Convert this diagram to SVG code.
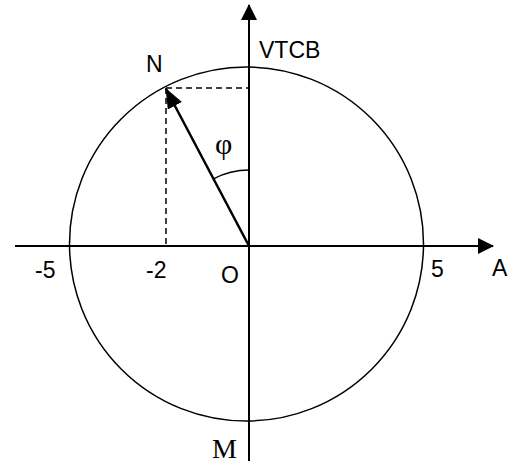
<svg xmlns="http://www.w3.org/2000/svg" width="520" height="466" viewBox="0 0 520 466">
<style>
.ax{stroke:#000;stroke-width:2;fill:none}
.thin{stroke:#000;stroke-width:1.5;fill:none}
.dash{stroke:#000;stroke-width:1.5;stroke-dasharray:6 4;fill:none}
.lbl{font-family:"Liberation Sans",Arial,sans-serif;font-size:23px;fill:#000}
.ser{font-family:"Liberation Serif","Times New Roman",serif;fill:#000}
</style>
<defs>
<marker id="ah" viewBox="0 0 16 16" refX="15" refY="8" markerWidth="16" markerHeight="16" markerUnits="userSpaceOnUse" orient="auto">
<path d="M0,0 L16,8 L0,16 Z" fill="#000"/>
</marker>
<marker id="ah2" viewBox="0 0 20 16" refX="19" refY="8" markerWidth="20" markerHeight="16" markerUnits="userSpaceOnUse" orient="auto">
<path d="M0,0 L20,8 L0,16 Z" fill="#000"/>
</marker>
</defs>
<g id="circle"><circle class="thin" cx="246.5" cy="244" r="177"/></g>
<g id="connectors">
<line class="ax" x1="15" y1="246" x2="493" y2="246" marker-end="url(#ah)"/>
<line class="ax" x1="249" y1="461" x2="249" y2="5" marker-end="url(#ah)"/>
<line class="dash" x1="166" y1="88" x2="249" y2="88"/>
<line class="dash" x1="166" y1="88" x2="166" y2="246"/>
<line stroke="#000" stroke-width="2.5" x1="249" y1="246" x2="166" y2="89" marker-end="url(#ah2)"/>
<path class="thin" d="M249,170 A76,76 0 0 0 213.5,178.8"/>
</g>
<g id="labels">
<text class="lbl" x="259" y="58">VTCB</text>
<text class="lbl" x="146" y="72">N</text>
<text class="lbl" x="35" y="278">-5</text>
<text class="lbl" x="146" y="278">-2</text>
<text class="lbl" x="221" y="283">O</text>
<text class="lbl" x="431" y="277">5</text>
<text class="lbl" x="492" y="276">A</text>
<text class="ser" x="212" y="458" font-size="28">M</text>
<text class="ser" x="215" y="154" font-size="30">φ</text>
</g>
</svg>
